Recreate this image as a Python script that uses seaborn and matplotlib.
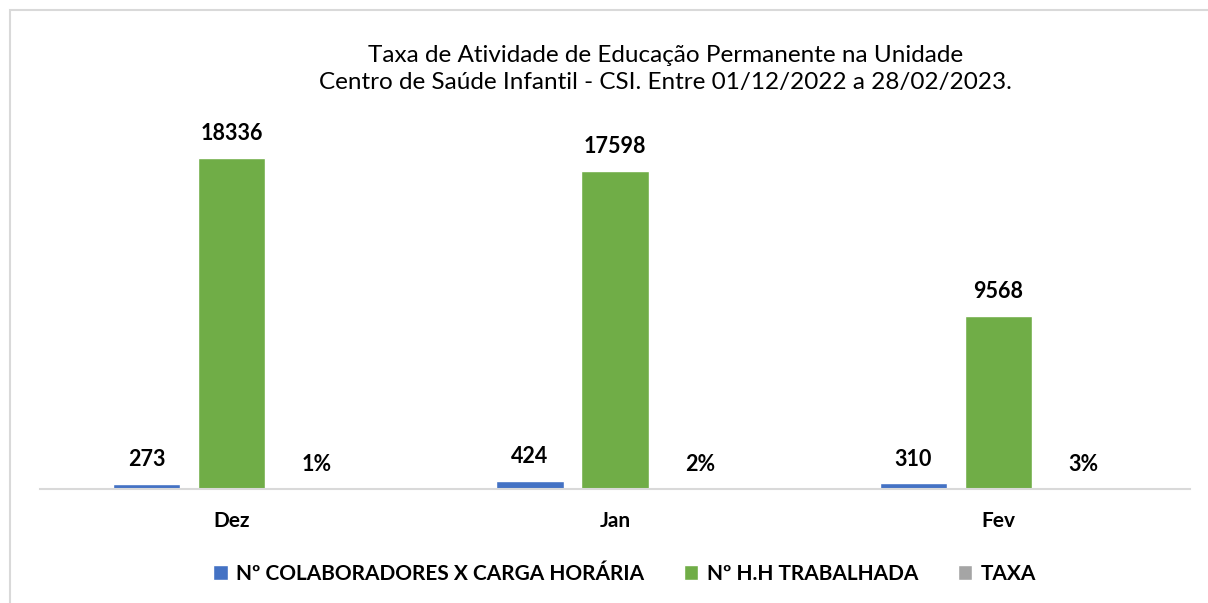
import seaborn as sns
import pandas as pd
import matplotlib.pyplot as plt
from matplotlib.patches import Rectangle

meses = ["Dez", "Jan", "Fev"]
series = ["Nº COLABORADORES X CARGA HORÁRIA", "Nº H.H TRABALHADA", "TAXA"]
colaboradores = [273, 424, 310]
hh_trabalhada = [18336, 17598, 9568]
taxa = [0.01, 0.02, 0.03]
cores = ["#4472C4", "#70AD47", "#A5A5A5"]

df = pd.DataFrame({
    "mes": meses * 3,
    "serie": [series[0]] * 3 + [series[1]] * 3 + [series[2]] * 3,
    "valor": colaboradores + hh_trabalhada + taxa,
})

sns.set_style("white")
plt.rcParams["font.family"] = ["Lato", "DejaVu Sans"]
plt.rcParams["text.color"] = "black"
plt.rcParams["xtick.color"] = "black"

fig = plt.figure(figsize=(12.08, 6.03), dpi=100)
ax = fig.add_axes([0.0331, 0.189, 0.952, 0.599])

sns.barplot(data=df, x="mes", y="valor", hue="serie", palette=cores,
            saturation=1, width=0.666, gap=0.21, ax=ax, legend=True)

# rótulos de dados
for cont, serie in zip(ax.containers, series):
    if serie == "TAXA":
        labels = [f"{v:.0%}" for v in taxa]
    else:
        labels = [f"{int(round(b.get_height()))}" for b in cont]
    ax.bar_label(cont, labels=labels, padding=10, fontsize=15.5,
                 fontweight="bold", color="black")

ax.set_ylim(0, 20000)
ax.set_xlim(-0.5, 2.5)
ax.set_yticks([])
ax.set_xlabel("")
ax.set_ylabel("")
for s in ["top", "right", "left"]:
    ax.spines[s].set_visible(False)
ax.spines["bottom"].set_color("#d9d9d9")
ax.spines["bottom"].set_linewidth(1.5)
ax.tick_params(axis="x", length=0, pad=16)
for t in ax.get_xticklabels():
    t.set_fontsize(15)
    t.set_fontweight("bold")

handles, labs = ax.get_legend_handles_labels()
ax.legend_.remove()
fig.legend(handles, labs, loc="center", bbox_to_anchor=(0.517, 0.048), ncol=3,
           frameon=False, handlelength=0.7, handleheight=0.7, handletextpad=0.4,
           columnspacing=1.9, prop={"size": 15, "weight": "bold"})

fig.text(0.551, 0.885, "Taxa de Atividade de Educação Permanente na Unidade\n"
         "Centro de Saúde Infantil - CSI. Entre 01/12/2022 a 28/02/2023.",
         ha="center", va="center", fontsize=17.5, linespacing=1.35)

# moldura do gráfico
fig.patches.append(Rectangle((10 / 1208, -0.1), 1.2, (593 / 603) + 0.1,
                             transform=fig.transFigure, fill=False,
                             edgecolor="#d9d9d9", linewidth=1.5))

plt.savefig("out.png", dpi=100)
